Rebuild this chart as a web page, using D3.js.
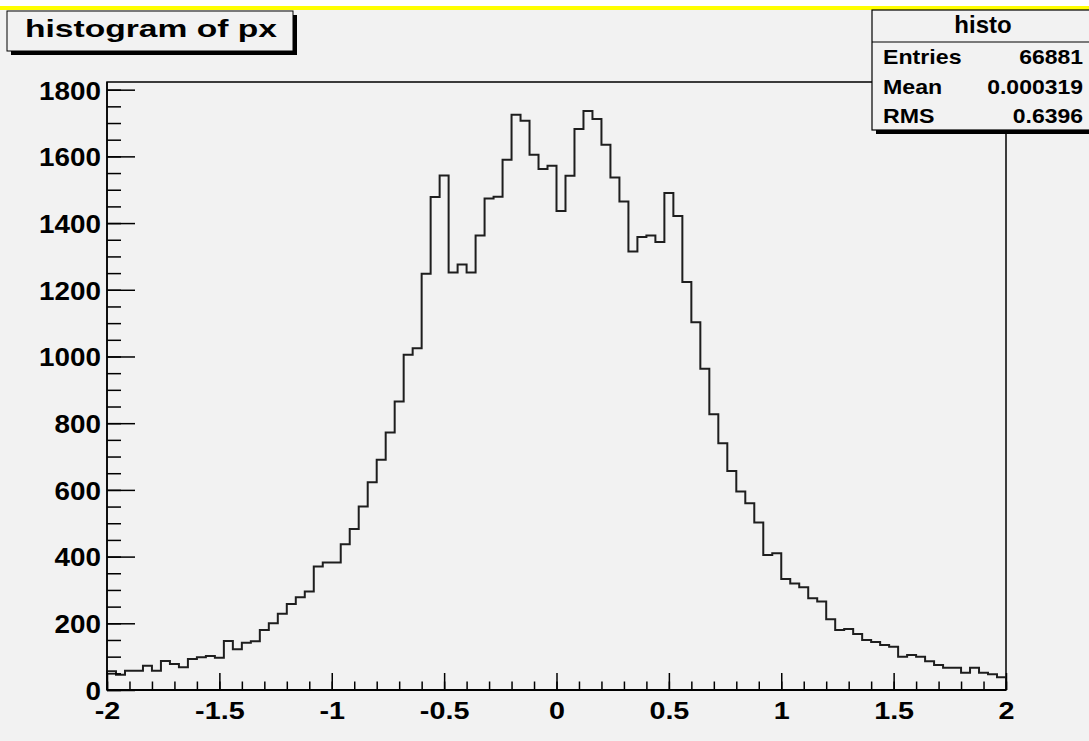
<!DOCTYPE html>
<html>
<head>
<meta charset="utf-8">
<script src="https://cdn.jsdelivr.net/npm/d3@7"></script>
<style>
  body { margin: 0; background: #ffffff; }
  svg { display: block; }
  text { font-family: "Liberation Sans", Arial, sans-serif; font-weight: bold; fill: #000; }
</style>
</head>
<body>
<script>
// histogram definition
const histTitle = "histogram of px";
const histName = "histo";
const xMin = -2, xMax = 2, nBins = 100;
const yMax = 1823;

// bin contents (bin 0 = [-2,-1.96))
const counts = [
  56, 46, 58, 58, 73, 58, 87, 78, 68, 93,
  98, 102, 97, 147, 122, 142, 146, 180, 200, 229,
  258, 278, 295, 370, 382, 382, 437, 483, 550, 623,
  690, 772, 865, 1005, 1025, 1248, 1478, 1543, 1252, 1276,
  1252, 1363, 1474, 1479, 1590, 1725, 1707, 1605, 1562, 1572,
  1436, 1542, 1682, 1736, 1712, 1635, 1537, 1465, 1315, 1358,
  1363, 1343, 1490, 1421, 1223, 1103, 963, 827, 740, 657,
  595, 560, 502, 405, 410, 333, 319, 308, 275, 265,
  212, 180, 183, 168, 150, 144, 135, 130, 100, 105,
  100, 86, 75, 67, 67, 52, 67, 52, 47, 38
];

// axis ticks
const xMajor = [-2, -1.5, -1, -0.5, 0, 0.5, 1, 1.5, 2];
const xMinor = d3.range(-2, 2.0001, 0.1);
const yMajor = [0, 200, 400, 600, 800, 1000, 1200, 1400, 1600, 1800];
const yMinor = d3.range(0, 1801, 50);

// stats box
const statLabels = ["Entries", "Mean", "RMS"];
const statValues = ["66881", "0.000319", "0.6396"];

// ---------------------------------------------------------------
const W = 1089, H = 741;
const frame = { left: 107, right: 1006, top: 82, bottom: 690 };
const bg = "#f2f2f2";

const svg = d3.select("body").append("svg").attr("width", W).attr("height", H);

svg.append("rect").attr("width", W).attr("height", H).attr("fill", bg);
svg.append("rect").attr("width", W).attr("height", 6).attr("fill", "#ffffff");
svg.append("rect").attr("y", 6).attr("width", W).attr("height", 4).attr("fill", "#ffff00");

const x = d3.scaleLinear().domain([xMin, xMax]).range([frame.left, frame.right]);
const y = d3.scaleLinear().domain([0, yMax]).range([frame.bottom, frame.top]);

function stretch(sel, k) {
  sel.each(function () {
    const w = this.getComputedTextLength();
    d3.select(this).attr("textLength", w * k).attr("lengthAdjust", "spacingAndGlyphs");
  });
}

// frame
svg.append("rect")
  .attr("x", frame.left).attr("y", frame.top)
  .attr("width", frame.right - frame.left).attr("height", frame.bottom - frame.top)
  .attr("fill", "none").attr("stroke", "#000").attr("stroke-width", 1.5);

// histogram outline
const binW = (xMax - xMin) / nBins;
const pts = [[xMin, 0]];
counts.forEach((c, i) => pts.push([xMin + i * binW, c]));
pts.push([xMax, counts[counts.length - 1]]);
pts.push([xMax, 0]);

const line = d3.line().x(d => x(d[0])).y(d => y(d[1])).curve(d3.curveStepAfter);
svg.append("path").attr("d", line(pts))
  .attr("fill", "none").attr("stroke", "#1e1e1e").attr("stroke-width", 2);

// x axis
const gx = svg.append("g").attr("transform", `translate(0,${frame.bottom})`);
gx.append("g").call(d3.axisBottom(x).tickValues(xMinor).tickSize(-8.5).tickFormat(""))
  .call(g => g.select(".domain").remove());
gx.append("g").call(d3.axisBottom(x).tickValues(xMajor).tickSize(-17)
    .tickFormat((d, i) => String(xMajor[i])))
  .call(g => g.select(".domain").attr("stroke-width", 2).attr("d", `M${frame.left},0H${frame.right}`));
gx.selectAll("line").attr("stroke", "#000").attr("stroke-width", 1.5);
const xl = gx.selectAll("text")
  .attr("y", 29).attr("dy", 0).attr("font-size", 23)
  .attr("font-family", "'Liberation Sans', Arial, sans-serif").attr("font-weight", "bold");
stretch(xl, 1.25);

// y axis
const gy = svg.append("g").attr("transform", `translate(${frame.left},0)`);
gy.append("g").call(d3.axisLeft(y).tickValues(yMinor).tickSize(-14).tickFormat(""))
  .call(g => g.select(".domain").remove());
gy.append("g").call(d3.axisLeft(y).tickValues(yMajor).tickSize(-28).tickPadding(6).tickFormat(d3.format("d")))
  .call(g => g.select(".domain").attr("stroke-width", 1.5).attr("d", `M0,${frame.bottom}V${frame.top}`));
gy.selectAll("line").attr("stroke", "#000").attr("stroke-width", 1.5);
const yl = gy.selectAll("text")
  .attr("dy", "0.36em").attr("font-size", 26)
  .attr("font-family", "'Liberation Sans', Arial, sans-serif").attr("font-weight", "bold");
stretch(yl, 1.07);

// title box
const tb = { x: 7, y: 11, w: 286, h: 40 };
svg.append("rect").attr("x", tb.x + 4).attr("y", tb.y + 4).attr("width", tb.w).attr("height", tb.h).attr("fill", "#000");
svg.append("rect").attr("x", tb.x).attr("y", tb.y).attr("width", tb.w).attr("height", tb.h)
  .attr("fill", bg).attr("stroke", "#000").attr("stroke-width", 1);
svg.append("text").attr("x", 25).attr("y", 37).attr("font-size", 24)
  .attr("textLength", 252).attr("lengthAdjust", "spacingAndGlyphs").text(histTitle);

// stats box
const sb = { x: 872, y: 10, w: 222, h: 120, head: 32 };
svg.append("rect").attr("x", sb.x + 4).attr("y", sb.y + 4).attr("width", sb.w).attr("height", sb.h).attr("fill", "#000");
svg.append("rect").attr("x", sb.x).attr("y", sb.y).attr("width", sb.w).attr("height", sb.h)
  .attr("fill", bg).attr("stroke", "#000").attr("stroke-width", 1.2);
svg.append("line").attr("x1", sb.x).attr("x2", sb.x + sb.w)
  .attr("y1", sb.y + sb.head).attr("y2", sb.y + sb.head).attr("stroke", "#000").attr("stroke-width", 1.2);
svg.append("text").attr("x", 983).attr("y", 33).attr("text-anchor", "middle").attr("font-size", 24).text(histName);

const rowY = d3.scalePoint().domain(statLabels).range([64, 123]);
const sl = svg.append("g").selectAll("text").data(statLabels).join("text")
  .attr("x", 883).attr("y", d => rowY(d)).attr("font-size", 20.5).text(d => d);
stretch(sl, 1.13);
const sv = svg.append("g").selectAll("text").data(statValues).join("text")
  .attr("x", 1083).attr("y", (d, i) => rowY(statLabels[i])).attr("text-anchor", "end")
  .attr("font-size", 20.5).text(d => d);
stretch(sv, 1.12);
</script>
</body>
</html>
